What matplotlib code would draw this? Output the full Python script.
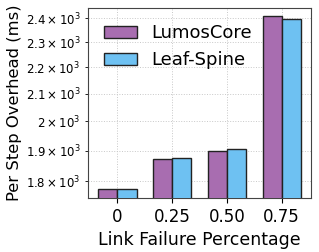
import numpy as np
import matplotlib.pyplot as plt
from matplotlib.ticker import FixedLocator, FixedFormatter, NullLocator

# values
categories = ['0', '0.25', '0.50', '0.75']
lumoscore = [1775, 1872, 1900, 2408]
leafspine = [1776, 1874, 1905, 2398]
ytick_vals = [1800, 1900, 2000, 2100, 2200, 2300, 2400]
ytick_labels = [r'$1.8\times10^{3}$', r'$1.9\times10^{3}$', r'$2\times10^{3}$',
                r'$2.1\times10^{3}$', r'$2.2\times10^{3}$', r'$2.3\times10^{3}$',
                r'$2.4\times10^{3}$']

fig, ax = plt.subplots(figsize=(3.19, 2.52), dpi=100)
x = np.arange(len(categories))
w = 0.35
ax.bar(x - w / 2, lumoscore, w, color='#A86DB0', edgecolor='#222222', linewidth=1.0,
       label='LumosCore', zorder=3)
ax.bar(x + w / 2, leafspine, w, color='#6EC1F2', edgecolor='#222222', linewidth=1.0,
       label='Leaf-Spine', zorder=3)

ax.set_yscale('log')
ax.set_ylim(1747, 2443)
ax.yaxis.set_major_locator(NullLocator())
ax.yaxis.set_minor_locator(FixedLocator(ytick_vals))
ax.yaxis.set_minor_formatter(FixedFormatter(ytick_labels))
ax.tick_params(axis='y', which='minor', labelsize=8.5)
ax.set_xticks(x)
ax.set_xticklabels(categories, fontsize=12)

ax.grid(True, which='both', linestyle=':', linewidth=0.7, color='#c8c8c8', zorder=0)
for s in ax.spines.values():
    s.set_color('#444444')

ax.set_xlabel('Link Failure Percentage', fontsize=12.5)
ax.set_ylabel('Per Step Overhead (ms)', fontsize=11.8, labelpad=3)
ax.legend(fontsize=13, frameon=False, loc='upper left', handlelength=1.8)

fig.subplots_adjust(left=0.276, right=0.975, top=0.968, bottom=0.214)
fig.savefig('out.png')
